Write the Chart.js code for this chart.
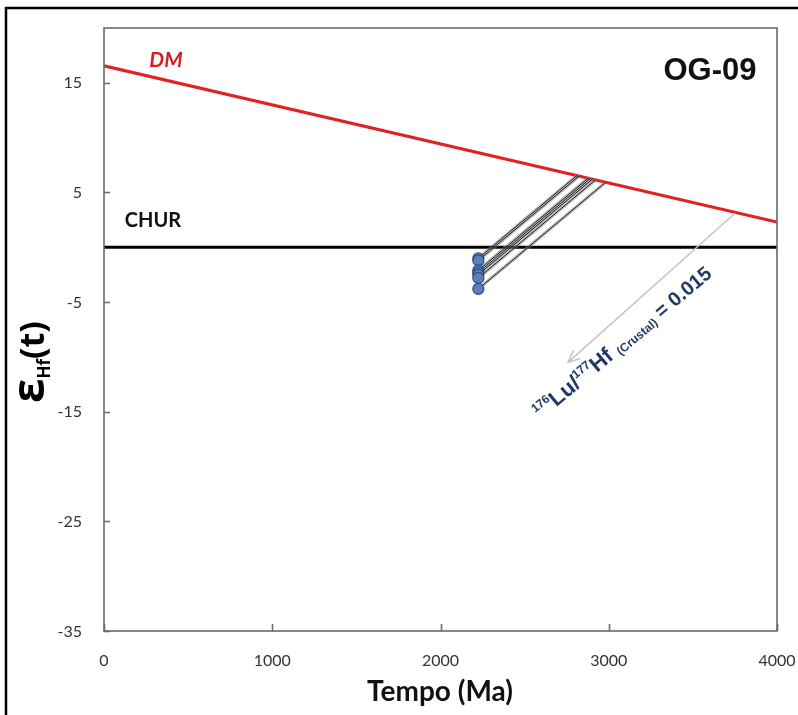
<!DOCTYPE html>
<html>
<head>
<meta charset="utf-8">
<script src="https://cdn.jsdelivr.net/npm/chart.js@4.4.0/dist/chart.umd.min.js"></script>
<style>
  html, body { margin: 0; padding: 0; background: #ffffff; }
  #wrap { width: 798px; height: 715px; position: relative; }
</style>
</head>
<body>
<div id="wrap"><canvas id="c" width="798" height="715"></canvas></div>
<script>
// Axis ticks
const xTicks = [0, 1000, 2000, 3000, 4000];
const yTicks = [-35, -25, -15, -5, 5, 15];

// Reference evolution lines
const dmAge = [0, 4000];
const dmEps = [16.55, 2.3];
const churAge = [0, 4000];
const churEps = [0, 0];

// Zircon analyses (crystallisation age, initial εHf)
const sampleAge = [2225, 2225, 2225, 2225, 2225, 2225, 2225];
const sampleEps = [-1.0, -1.2, -2.1, -2.3, -2.5, -2.8, -3.8];

// Two-stage model ages where each crustal path meets the DM curve
const tdmAge = [2811, 2824, 2878, 2890, 2903, 2921, 2982];
const tdmEps = [6.54, 6.50, 6.30, 6.26, 6.22, 6.15, 5.93];

// Crustal evolution arrow (start, end)
const arrowAge = [3750, 2758];
const arrowEps = [3.1, -10.5];

const TICK_FONT = '16px Lato, "Open Sans", sans-serif';

function pairs(xs, ys) { return xs.map((x, i) => ({ x: x, y: ys[i] })); }

function evolutionPaths() {
  const out = [];
  sampleAge.forEach((a, i) => {
    out.push({ x: a, y: sampleEps[i] });
    out.push({ x: tdmAge[i], y: tdmEps[i] });
    out.push({ x: tdmAge[i], y: null });
  });
  return out;
}

function drawRuns(ctx, runs, x, y, angle) {
  ctx.save();
  ctx.translate(x, y);
  ctx.rotate(angle);
  ctx.textBaseline = 'alphabetic';
  ctx.textAlign = 'left';
  let cx = 0;
  runs.forEach(r => {
    ctx.font = r.font;
    ctx.fillStyle = r.color;
    ctx.fillText(r.t, cx, r.dy || 0);
    cx += ctx.measureText(r.t).width + (r.gap || 0);
  });
  ctx.restore();
}

const decor = {
  id: 'decor',
  beforeDraw(chart) {
    const ctx = chart.ctx;
    ctx.save();
    ctx.fillStyle = '#ffffff';
    ctx.fillRect(0, 0, chart.width, chart.height);
    ctx.strokeStyle = '#000000';
    ctx.lineWidth = 2.5;
    ctx.strokeRect(6, 8, chart.width + 20, chart.height + 20);
    ctx.restore();
  },
  afterDatasetsDraw(chart) {
    const ctx = chart.ctx;
    const xs = chart.scales.x, ys = chart.scales.y;
    const ca = chart.chartArea;

    // plot frame and inward tick marks
    ctx.save();
    ctx.strokeStyle = '#6a6a6a';
    ctx.lineWidth = 1.6;
    ctx.strokeRect(ca.left, ca.top, ca.right - ca.left, ca.bottom - ca.top);
    ctx.beginPath();
    xTicks.forEach(v => {
      const px = Math.round(xs.getPixelForValue(v)) + 0.5;
      ctx.moveTo(px, ca.bottom);
      ctx.lineTo(px, ca.bottom - 7);
    });
    yTicks.forEach(v => {
      const py = Math.round(ys.getPixelForValue(v)) + 0.5;
      ctx.moveTo(ca.left, py);
      ctx.lineTo(ca.left + 6, py);
    });
    ctx.stroke();
    ctx.restore();

    // tick labels
    ctx.save();
    ctx.font = TICK_FONT;
    ctx.fillStyle = '#333333';
    ctx.textBaseline = 'middle';
    ctx.textAlign = 'center';
    xTicks.forEach(v => ctx.fillText(String(v), xs.getPixelForValue(v), 661));
    ctx.textAlign = 'right';
    yTicks.forEach(v => ctx.fillText(String(v), 82, ys.getPixelForValue(v) + 0.5));
    ctx.restore();

    // crustal evolution arrow
    const x0 = xs.getPixelForValue(arrowAge[0]), y0 = ys.getPixelForValue(arrowEps[0]);
    const x1 = xs.getPixelForValue(arrowAge[1]), y1 = ys.getPixelForValue(arrowEps[1]);
    const ang = Math.atan2(y1 - y0, x1 - x0);
    ctx.save();
    ctx.strokeStyle = '#c4c4c4';
    ctx.lineWidth = 1.5;
    ctx.beginPath();
    ctx.moveTo(x0, y0);
    ctx.lineTo(x1, y1);
    const hl = 13, ha = 0.42;
    ctx.moveTo(x1 - hl * Math.cos(ang - ha), y1 - hl * Math.sin(ang - ha));
    ctx.lineTo(x1, y1);
    ctx.lineTo(x1 - hl * Math.cos(ang + ha), y1 - hl * Math.sin(ang + ha));
    ctx.stroke();
    ctx.restore();

    // labels
    ctx.save();
    ctx.textBaseline = 'middle';
    ctx.textAlign = 'center';
    ctx.fillStyle = '#d81e1e';
    ctx.font = 'italic bold 21px Lato, "Open Sans", sans-serif';
    ctx.fillText('DM', 166, 60);
    ctx.fillStyle = '#111111';
    ctx.font = 'bold 20px Lato, "Open Sans", sans-serif';
    ctx.fillText('CHUR', 153, 221);
    ctx.font = 'bold 31px "Liberation Sans", Arial, sans-serif';
    ctx.fillText('OG-09', 710, 71);
    ctx.font = 'bold 28px Lato, "Open Sans", sans-serif';
    ctx.fillText('Tempo (Ma)', 440, 692);
    ctx.restore();

    // rotated ratio annotation
    const navy = '#1f3a68';
    const A = 'bold ';
    const F = 'px "Liberation Sans", Arial, sans-serif';
    drawRuns(ctx, [
      { t: '176', font: A + '12' + F, color: navy, dy: -9 },
      { t: 'Lu/', font: A + '22' + F, color: navy },
      { t: '177', font: A + '12' + F, color: navy, dy: -9 },
      { t: 'Hf ', font: A + '22' + F, color: navy },
      { t: '(Crustal)', font: A + '12' + F, color: navy, dy: 2 },
      { t: ' = 0.015', font: A + '20' + F, color: navy }
    ], 541, 420, -40 * Math.PI / 180);

    // y-axis title εHf(t)
    drawRuns(ctx, [
      { t: 'ε', font: 'bold 44px "Open Sans", sans-serif', color: '#000' },
      { t: 'Hf', font: 'bold 17px "Open Sans", sans-serif', color: '#000', dy: 6 },
      { t: '(t)', font: 'bold 34px "Open Sans", sans-serif', color: '#000' }
    ], 44, 403, -Math.PI / 2);
  }
};

const ctx = document.getElementById('c').getContext('2d');
new Chart(ctx, {
  type: 'scatter',
  data: {
    datasets: [
      {
        label: 'samples',
        data: pairs(sampleAge, sampleEps),
        pointRadius: 5.5,
        pointBackgroundColor: '#5b80b9',
        pointBorderColor: '#2d4b7c',
        pointBorderWidth: 1.2,
        showLine: false,
        order: 0
      },
      {
        label: 'paths',
        data: evolutionPaths(),
        showLine: true,
        spanGaps: false,
        borderColor: '#1a1a1a',
        borderWidth: 1,
        pointRadius: 0,
        order: 1
      },
      {
        label: 'paths-halo',
        data: evolutionPaths(),
        showLine: true,
        spanGaps: false,
        borderColor: 'rgba(140,140,140,0.55)',
        borderWidth: 3.5,
        pointRadius: 0,
        order: 2
      },
      {
        label: 'DM',
        data: pairs(dmAge, dmEps),
        showLine: true,
        borderColor: '#e02222',
        borderWidth: 3.2,
        pointRadius: 0,
        order: 3
      },
      {
        label: 'CHUR',
        data: pairs(churAge, churEps),
        showLine: true,
        borderColor: '#000000',
        borderWidth: 3,
        pointRadius: 0,
        order: 4
      }
    ]
  },
  options: {
    responsive: false,
    animation: false,
    layout: { padding: { left: 0, top: 28, right: 21, bottom: 0 } },
    plugins: { legend: { display: false }, tooltip: { enabled: false } },
    scales: {
      x: {
        type: 'linear',
        min: 0, max: 4000,
        afterBuildTicks: s => { s.ticks = xTicks.map(v => ({ value: v })); },
        afterFit: s => { s.height = 84; },
        grid: { display: false, drawTicks: false },
        border: { display: false },
        ticks: { display: false }
      },
      y: {
        type: 'linear',
        min: -35, max: 20,
        afterBuildTicks: s => { s.ticks = yTicks.map(v => ({ value: v })); },
        afterFit: s => { s.width = 104; },
        grid: { display: false, drawTicks: false },
        border: { display: false },
        ticks: { display: false }
      }
    }
  },
  plugins: [decor]
});
</script>
</body>
</html>
